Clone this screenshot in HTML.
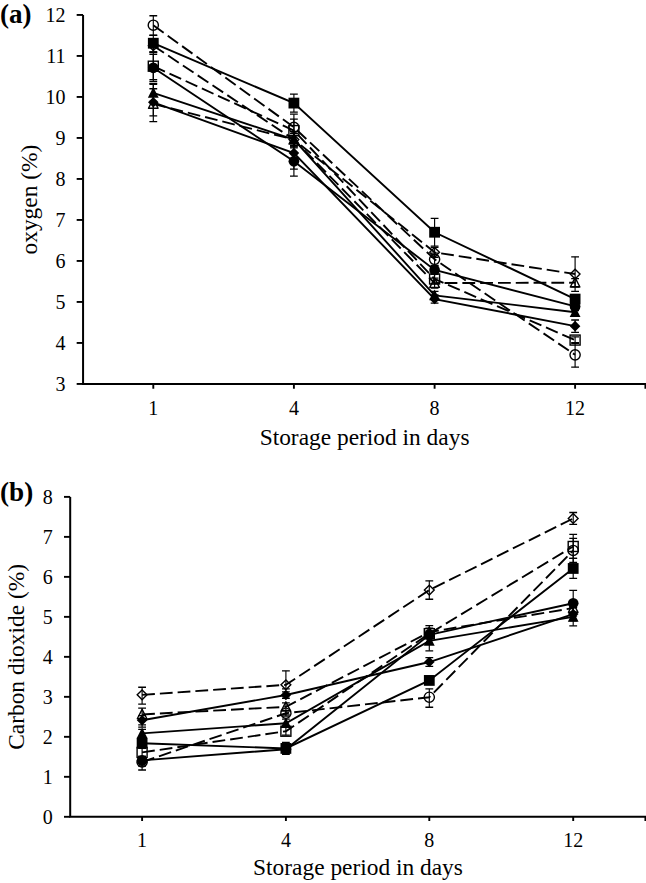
<!DOCTYPE html>
<html><head><meta charset="utf-8"><style>
html,body{margin:0;padding:0;background:#fff;}
body{width:646px;height:883px;overflow:hidden;}
svg{display:block;}
text{font-family:"Liberation Serif", serif;fill:#000;}
</style></head><body>
<svg width="646" height="883" viewBox="0 0 646 883" font-family='"Liberation Serif", serif'>
<rect width="646" height="883" fill="#fff"/>
<path d="M83.07,14.94V383.94H646" fill="none" stroke="#000" stroke-width="2"/>
<path d="M76.67,383.94H83.07" stroke="#000" stroke-width="1.9"/>
<text x="65.4" y="390.84" text-anchor="end" font-size="20">3</text>
<path d="M76.67,342.94H83.07" stroke="#000" stroke-width="1.9"/>
<text x="65.4" y="349.84" text-anchor="end" font-size="20">4</text>
<path d="M76.67,301.94H83.07" stroke="#000" stroke-width="1.9"/>
<text x="65.4" y="308.84" text-anchor="end" font-size="20">5</text>
<path d="M76.67,260.94H83.07" stroke="#000" stroke-width="1.9"/>
<text x="65.4" y="267.84" text-anchor="end" font-size="20">6</text>
<path d="M76.67,219.94H83.07" stroke="#000" stroke-width="1.9"/>
<text x="65.4" y="226.84" text-anchor="end" font-size="20">7</text>
<path d="M76.67,178.94H83.07" stroke="#000" stroke-width="1.9"/>
<text x="65.4" y="185.84" text-anchor="end" font-size="20">8</text>
<path d="M76.67,137.94H83.07" stroke="#000" stroke-width="1.9"/>
<text x="65.4" y="144.84" text-anchor="end" font-size="20">9</text>
<path d="M76.67,96.94H83.07" stroke="#000" stroke-width="1.9"/>
<text x="65.4" y="103.84" text-anchor="end" font-size="20">10</text>
<path d="M76.67,55.94H83.07" stroke="#000" stroke-width="1.9"/>
<text x="65.4" y="62.84" text-anchor="end" font-size="20">11</text>
<path d="M76.67,14.94H83.07" stroke="#000" stroke-width="1.9"/>
<text x="65.4" y="21.84" text-anchor="end" font-size="20">12</text>
<path d="M153.30,383.94V388.74" stroke="#000" stroke-width="1.9"/>
<path d="M293.90,383.94V388.74" stroke="#000" stroke-width="1.9"/>
<path d="M434.60,383.94V388.74" stroke="#000" stroke-width="1.9"/>
<path d="M575.10,383.94V388.74" stroke="#000" stroke-width="1.9"/>
<path d="M645.40,383.94V388.74" stroke="#000" stroke-width="1.9"/>
<text x="153.30" y="415" text-anchor="middle" font-size="20">1</text>
<text x="293.90" y="415" text-anchor="middle" font-size="20">4</text>
<text x="434.60" y="415" text-anchor="middle" font-size="20">8</text>
<text x="575.10" y="415" text-anchor="middle" font-size="20">12</text>
<text x="364.6" y="444.8" text-anchor="middle" font-size="23.4">Storage period in days</text>
<text transform="translate(36.8,199.6) rotate(-90)" text-anchor="middle" font-size="23.4">oxygen (%)</text>
<text x="0" y="22.9" font-size="27" font-weight="bold">(a)</text>
<polyline points="153.30,25.19 293.90,127.28 434.60,259.30 575.10,354.83" fill="none" stroke="#000" stroke-width="1.9" stroke-dasharray="12.8 5.0"/>
<polyline points="153.30,45.69 293.90,139.58 434.60,252.33 575.10,274.06" fill="none" stroke="#000" stroke-width="1.9" stroke-dasharray="12.8 5.0"/>
<polyline points="153.30,66.19 293.90,130.56 434.60,278.98 575.10,340.07" fill="none" stroke="#000" stroke-width="1.9" stroke-dasharray="12.8 5.0"/>
<polyline points="153.30,103.91 293.90,139.58 434.60,283.08 575.10,282.67" fill="none" stroke="#000" stroke-width="1.9" stroke-dasharray="12.8 5.0"/>
<polyline points="153.30,43.23 293.90,103.09 434.60,232.24 575.10,299.07" fill="none" stroke="#000" stroke-width="1.9"/>
<polyline points="153.30,67.83 293.90,161.31 434.60,269.96 575.10,306.45" fill="none" stroke="#000" stroke-width="1.9"/>
<polyline points="153.30,92.84 293.90,139.58 434.60,295.38 575.10,312.19" fill="none" stroke="#000" stroke-width="1.9"/>
<polyline points="153.30,102.27 293.90,153.11 434.60,299.07 575.10,326.13" fill="none" stroke="#000" stroke-width="1.9"/>
<circle cx="153.30" cy="25.19" r="5.1" fill="none" stroke="#000" stroke-width="1.4"/>
<circle cx="293.90" cy="127.28" r="5.1" fill="none" stroke="#000" stroke-width="1.4"/>
<circle cx="434.60" cy="259.30" r="5.1" fill="none" stroke="#000" stroke-width="1.4"/>
<circle cx="575.10" cy="354.83" r="5.1" fill="none" stroke="#000" stroke-width="1.4"/>
<path d="M153.30,40.79L158.20,45.69L153.30,50.59L148.40,45.69Z" fill="none" stroke="#000" stroke-width="1.4"/>
<path d="M293.90,134.68L298.80,139.58L293.90,144.48L289.00,139.58Z" fill="none" stroke="#000" stroke-width="1.4"/>
<path d="M434.60,247.43L439.50,252.33L434.60,257.23L429.70,252.33Z" fill="none" stroke="#000" stroke-width="1.4"/>
<path d="M575.10,269.16L580.00,274.06L575.10,278.96L570.20,274.06Z" fill="none" stroke="#000" stroke-width="1.4"/>
<rect x="148.30" y="61.19" width="10.00" height="10.00" fill="none" stroke="#000" stroke-width="1.4"/>
<rect x="288.90" y="125.56" width="10.00" height="10.00" fill="none" stroke="#000" stroke-width="1.4"/>
<rect x="429.60" y="273.98" width="10.00" height="10.00" fill="none" stroke="#000" stroke-width="1.4"/>
<rect x="570.10" y="335.07" width="10.00" height="10.00" fill="none" stroke="#000" stroke-width="1.4"/>
<path d="M153.30,98.91L158.10,108.21L148.50,108.21Z" fill="none" stroke="#000" stroke-width="1.4" stroke-linejoin="round"/>
<path d="M293.90,134.58L298.70,143.88L289.10,143.88Z" fill="none" stroke="#000" stroke-width="1.4" stroke-linejoin="round"/>
<path d="M434.60,278.08L439.40,287.38L429.80,287.38Z" fill="none" stroke="#000" stroke-width="1.4" stroke-linejoin="round"/>
<path d="M575.10,277.67L579.90,286.97L570.30,286.97Z" fill="none" stroke="#000" stroke-width="1.4" stroke-linejoin="round"/>
<rect x="147.90" y="37.83" width="10.80" height="10.80" fill="#000"/>
<rect x="288.50" y="97.69" width="10.80" height="10.80" fill="#000"/>
<rect x="429.20" y="226.84" width="10.80" height="10.80" fill="#000"/>
<rect x="569.70" y="293.67" width="10.80" height="10.80" fill="#000"/>
<circle cx="153.30" cy="67.83" r="5.35" fill="#000"/>
<circle cx="293.90" cy="161.31" r="5.35" fill="#000"/>
<circle cx="434.60" cy="269.96" r="5.35" fill="#000"/>
<circle cx="575.10" cy="306.45" r="5.35" fill="#000"/>
<path d="M153.30,87.04L158.70,97.74L147.90,97.74Z" fill="#000"/>
<path d="M293.90,133.78L299.30,144.48L288.50,144.48Z" fill="#000"/>
<path d="M434.60,289.58L440.00,300.28L429.20,300.28Z" fill="#000"/>
<path d="M575.10,306.39L580.50,317.09L569.70,317.09Z" fill="#000"/>
<path d="M153.30,96.97L158.60,102.27L153.30,107.57L148.00,102.27Z" fill="#000"/>
<path d="M293.90,147.81L299.20,153.11L293.90,158.41L288.60,153.11Z" fill="#000"/>
<path d="M434.60,293.77L439.90,299.07L434.60,304.37L429.30,299.07Z" fill="#000"/>
<path d="M575.10,320.83L580.40,326.13L575.10,331.43L569.80,326.13Z" fill="#000"/>
<path d="M153.30,15.76V35.23" stroke="#000" stroke-width="1.15"/>
<path d="M149.40,15.76H157.20M149.40,35.23H157.20" stroke="#000" stroke-width="1.3"/>
<path d="M293.90,119.08V135.48" stroke="#000" stroke-width="1.15"/>
<path d="M290.00,119.08H297.80M290.00,135.48H297.80" stroke="#000" stroke-width="1.3"/>
<path d="M434.60,253.15V265.45" stroke="#000" stroke-width="1.15"/>
<path d="M430.70,253.15H438.50M430.70,265.45H438.50" stroke="#000" stroke-width="1.3"/>
<path d="M575.10,342.53V367.13" stroke="#000" stroke-width="1.15"/>
<path d="M571.20,342.53H579.00M571.20,367.13H579.00" stroke="#000" stroke-width="1.3"/>
<path d="M153.30,41.59V51.84" stroke="#000" stroke-width="1.15"/>
<path d="M149.40,41.59H157.20M149.40,51.84H157.20" stroke="#000" stroke-width="1.3"/>
<path d="M293.90,133.43V145.73" stroke="#000" stroke-width="1.15"/>
<path d="M290.00,133.43H297.80M290.00,145.73H297.80" stroke="#000" stroke-width="1.3"/>
<path d="M434.60,247.41V257.25" stroke="#000" stroke-width="1.15"/>
<path d="M430.70,247.41H438.50M430.70,257.25H438.50" stroke="#000" stroke-width="1.3"/>
<path d="M575.10,256.84V291.28" stroke="#000" stroke-width="1.15"/>
<path d="M571.20,256.84H579.00M571.20,291.28H579.00" stroke="#000" stroke-width="1.3"/>
<path d="M153.30,52.66V79.72" stroke="#000" stroke-width="1.15"/>
<path d="M149.40,52.66H157.20M149.40,79.72H157.20" stroke="#000" stroke-width="1.3"/>
<path d="M293.90,114.16V146.96" stroke="#000" stroke-width="1.15"/>
<path d="M290.00,114.16H297.80M290.00,146.96H297.80" stroke="#000" stroke-width="1.3"/>
<path d="M434.60,274.06V283.90" stroke="#000" stroke-width="1.15"/>
<path d="M430.70,274.06H438.50M430.70,283.90H438.50" stroke="#000" stroke-width="1.3"/>
<path d="M575.10,336.79V343.35" stroke="#000" stroke-width="1.15"/>
<path d="M571.20,336.79H579.00M571.20,343.35H579.00" stroke="#000" stroke-width="1.3"/>
<path d="M153.30,83.41V121.54" stroke="#000" stroke-width="1.15"/>
<path d="M149.40,83.41H157.20M149.40,121.54H157.20" stroke="#000" stroke-width="1.3"/>
<path d="M293.90,131.38V147.78" stroke="#000" stroke-width="1.15"/>
<path d="M290.00,131.38H297.80M290.00,147.78H297.80" stroke="#000" stroke-width="1.3"/>
<path d="M434.60,278.16V288.00" stroke="#000" stroke-width="1.15"/>
<path d="M430.70,278.16H438.50M430.70,288.00H438.50" stroke="#000" stroke-width="1.3"/>
<path d="M575.10,278.57V286.77" stroke="#000" stroke-width="1.15"/>
<path d="M571.20,278.57H579.00M571.20,286.77H579.00" stroke="#000" stroke-width="1.3"/>
<path d="M153.30,35.44V51.84" stroke="#000" stroke-width="1.15"/>
<path d="M149.40,35.44H157.20M149.40,51.84H157.20" stroke="#000" stroke-width="1.3"/>
<path d="M293.90,94.07V112.11" stroke="#000" stroke-width="1.15"/>
<path d="M290.00,94.07H297.80M290.00,112.11H297.80" stroke="#000" stroke-width="1.3"/>
<path d="M434.60,218.30V246.18" stroke="#000" stroke-width="1.15"/>
<path d="M430.70,218.30H438.50M430.70,246.18H438.50" stroke="#000" stroke-width="1.3"/>
<path d="M575.10,294.97V303.17" stroke="#000" stroke-width="1.15"/>
<path d="M571.20,294.97H579.00M571.20,303.17H579.00" stroke="#000" stroke-width="1.3"/>
<path d="M153.30,54.30V81.36" stroke="#000" stroke-width="1.15"/>
<path d="M149.40,54.30H157.20M149.40,81.36H157.20" stroke="#000" stroke-width="1.3"/>
<path d="M293.90,153.52V169.10" stroke="#000" stroke-width="1.15"/>
<path d="M290.00,153.52H297.80M290.00,169.10H297.80" stroke="#000" stroke-width="1.3"/>
<path d="M434.60,265.86V274.06" stroke="#000" stroke-width="1.15"/>
<path d="M430.70,265.86H438.50M430.70,274.06H438.50" stroke="#000" stroke-width="1.3"/>
<path d="M575.10,302.35V310.55" stroke="#000" stroke-width="1.15"/>
<path d="M571.20,302.35H579.00M571.20,310.55H579.00" stroke="#000" stroke-width="1.3"/>
<path d="M153.30,84.23V101.45" stroke="#000" stroke-width="1.15"/>
<path d="M149.40,84.23H157.20M149.40,101.45H157.20" stroke="#000" stroke-width="1.3"/>
<path d="M293.90,133.43V145.73" stroke="#000" stroke-width="1.15"/>
<path d="M290.00,133.43H297.80M290.00,145.73H297.80" stroke="#000" stroke-width="1.3"/>
<path d="M434.60,291.28V299.48" stroke="#000" stroke-width="1.15"/>
<path d="M430.70,291.28H438.50M430.70,299.48H438.50" stroke="#000" stroke-width="1.3"/>
<path d="M575.10,308.09V316.29" stroke="#000" stroke-width="1.15"/>
<path d="M571.20,308.09H579.00M571.20,316.29H579.00" stroke="#000" stroke-width="1.3"/>
<path d="M153.30,88.74V115.80" stroke="#000" stroke-width="1.15"/>
<path d="M149.40,88.74H157.20M149.40,115.80H157.20" stroke="#000" stroke-width="1.3"/>
<path d="M293.90,140.81V176.07" stroke="#000" stroke-width="1.15"/>
<path d="M290.00,140.81H297.80M290.00,176.07H297.80" stroke="#000" stroke-width="1.3"/>
<path d="M434.60,294.97V303.17" stroke="#000" stroke-width="1.15"/>
<path d="M430.70,294.97H438.50M430.70,303.17H438.50" stroke="#000" stroke-width="1.3"/>
<path d="M575.10,319.98V332.28" stroke="#000" stroke-width="1.15"/>
<path d="M571.20,319.98H579.00M571.20,332.28H579.00" stroke="#000" stroke-width="1.3"/>
<path d="M70.2,496.88V816.80H646" fill="none" stroke="#000" stroke-width="2"/>
<path d="M64.00,816.80H70.2" stroke="#000" stroke-width="1.9"/>
<text x="52.8" y="823.70" text-anchor="end" font-size="20">0</text>
<path d="M64.00,776.81H70.2" stroke="#000" stroke-width="1.9"/>
<text x="52.8" y="783.71" text-anchor="end" font-size="20">1</text>
<path d="M64.00,736.82H70.2" stroke="#000" stroke-width="1.9"/>
<text x="52.8" y="743.72" text-anchor="end" font-size="20">2</text>
<path d="M64.00,696.83H70.2" stroke="#000" stroke-width="1.9"/>
<text x="52.8" y="703.73" text-anchor="end" font-size="20">3</text>
<path d="M64.00,656.84H70.2" stroke="#000" stroke-width="1.9"/>
<text x="52.8" y="663.74" text-anchor="end" font-size="20">4</text>
<path d="M64.00,616.85H70.2" stroke="#000" stroke-width="1.9"/>
<text x="52.8" y="623.75" text-anchor="end" font-size="20">5</text>
<path d="M64.00,576.86H70.2" stroke="#000" stroke-width="1.9"/>
<text x="52.8" y="583.76" text-anchor="end" font-size="20">6</text>
<path d="M64.00,536.87H70.2" stroke="#000" stroke-width="1.9"/>
<text x="52.8" y="543.77" text-anchor="end" font-size="20">7</text>
<path d="M64.00,496.88H70.2" stroke="#000" stroke-width="1.9"/>
<text x="52.8" y="503.78" text-anchor="end" font-size="20">8</text>
<path d="M142.10,816.80V821.00" stroke="#000" stroke-width="1.9"/>
<path d="M285.90,816.80V821.00" stroke="#000" stroke-width="1.9"/>
<path d="M429.30,816.80V821.00" stroke="#000" stroke-width="1.9"/>
<path d="M573.20,816.80V821.00" stroke="#000" stroke-width="1.9"/>
<path d="M645.40,816.80V821.00" stroke="#000" stroke-width="1.9"/>
<text x="142.10" y="846.6" text-anchor="middle" font-size="20">1</text>
<text x="285.90" y="846.6" text-anchor="middle" font-size="20">4</text>
<text x="429.30" y="846.6" text-anchor="middle" font-size="20">8</text>
<text x="573.20" y="846.6" text-anchor="middle" font-size="20">12</text>
<text x="358" y="875.1" text-anchor="middle" font-size="23.4">Storage period in days</text>
<text transform="translate(24.0,656.9) rotate(-90)" text-anchor="middle" font-size="23.4">Carbon dioxide (%)</text>
<text x="0" y="500.9" font-size="27.2" font-weight="bold">(b)</text>
<polyline points="142.10,694.83 285.90,684.83 429.30,590.06 573.20,518.47" fill="none" stroke="#000" stroke-width="1.9" stroke-dasharray="12.8 5.0"/>
<polyline points="142.10,714.43 285.90,706.83 429.30,632.05 573.20,608.05" fill="none" stroke="#000" stroke-width="1.9" stroke-dasharray="12.8 5.0"/>
<polyline points="142.10,762.01 285.90,713.23 429.30,697.23 573.20,550.47" fill="none" stroke="#000" stroke-width="1.9" stroke-dasharray="12.8 5.0"/>
<polyline points="142.10,752.42 285.90,731.22 429.30,633.65 573.20,546.47" fill="none" stroke="#000" stroke-width="1.9" stroke-dasharray="12.8 5.0"/>
<polyline points="142.10,743.22 285.90,748.42 429.30,680.43 573.20,568.46" fill="none" stroke="#000" stroke-width="1.9"/>
<polyline points="142.10,760.41 285.90,749.22 429.30,634.85 573.20,603.25" fill="none" stroke="#000" stroke-width="1.9"/>
<polyline points="142.10,733.42 285.90,723.22 429.30,640.84 573.20,616.85" fill="none" stroke="#000" stroke-width="1.9"/>
<polyline points="142.10,720.22 285.90,695.03 429.30,662.04 573.20,614.05" fill="none" stroke="#000" stroke-width="1.9"/>
<path d="M142.10,689.93L147.00,694.83L142.10,699.73L137.20,694.83Z" fill="none" stroke="#000" stroke-width="1.4"/>
<path d="M285.90,679.93L290.80,684.83L285.90,689.73L281.00,684.83Z" fill="none" stroke="#000" stroke-width="1.4"/>
<path d="M429.30,585.16L434.20,590.06L429.30,594.96L424.40,590.06Z" fill="none" stroke="#000" stroke-width="1.4"/>
<path d="M573.20,513.57L578.10,518.47L573.20,523.37L568.30,518.47Z" fill="none" stroke="#000" stroke-width="1.4"/>
<path d="M142.10,709.43L146.90,718.73L137.30,718.73Z" fill="none" stroke="#000" stroke-width="1.4" stroke-linejoin="round"/>
<path d="M285.90,701.83L290.70,711.13L281.10,711.13Z" fill="none" stroke="#000" stroke-width="1.4" stroke-linejoin="round"/>
<path d="M429.30,627.05L434.10,636.35L424.50,636.35Z" fill="none" stroke="#000" stroke-width="1.4" stroke-linejoin="round"/>
<path d="M573.20,603.05L578.00,612.35L568.40,612.35Z" fill="none" stroke="#000" stroke-width="1.4" stroke-linejoin="round"/>
<circle cx="142.10" cy="762.01" r="5.1" fill="none" stroke="#000" stroke-width="1.4"/>
<circle cx="285.90" cy="713.23" r="5.1" fill="none" stroke="#000" stroke-width="1.4"/>
<circle cx="429.30" cy="697.23" r="5.1" fill="none" stroke="#000" stroke-width="1.4"/>
<circle cx="573.20" cy="550.47" r="5.1" fill="none" stroke="#000" stroke-width="1.4"/>
<rect x="137.10" y="747.42" width="10.00" height="10.00" fill="none" stroke="#000" stroke-width="1.4"/>
<rect x="280.90" y="726.22" width="10.00" height="10.00" fill="none" stroke="#000" stroke-width="1.4"/>
<rect x="424.30" y="628.65" width="10.00" height="10.00" fill="none" stroke="#000" stroke-width="1.4"/>
<rect x="568.20" y="541.47" width="10.00" height="10.00" fill="none" stroke="#000" stroke-width="1.4"/>
<rect x="136.70" y="737.82" width="10.80" height="10.80" fill="#000"/>
<rect x="280.50" y="743.02" width="10.80" height="10.80" fill="#000"/>
<rect x="423.90" y="675.03" width="10.80" height="10.80" fill="#000"/>
<rect x="567.80" y="563.06" width="10.80" height="10.80" fill="#000"/>
<circle cx="142.10" cy="760.41" r="5.35" fill="#000"/>
<circle cx="285.90" cy="749.22" r="5.35" fill="#000"/>
<circle cx="429.30" cy="634.85" r="5.35" fill="#000"/>
<circle cx="573.20" cy="603.25" r="5.35" fill="#000"/>
<path d="M142.10,727.62L147.50,738.32L136.70,738.32Z" fill="#000"/>
<path d="M285.90,717.42L291.30,728.12L280.50,728.12Z" fill="#000"/>
<path d="M429.30,635.04L434.70,645.74L423.90,645.74Z" fill="#000"/>
<path d="M573.20,611.05L578.60,621.75L567.80,621.75Z" fill="#000"/>
<path d="M142.10,714.92L147.40,720.22L142.10,725.52L136.80,720.22Z" fill="#000"/>
<path d="M285.90,689.73L291.20,695.03L285.90,700.33L280.60,695.03Z" fill="#000"/>
<path d="M429.30,656.74L434.60,662.04L429.30,667.34L424.00,662.04Z" fill="#000"/>
<path d="M573.20,608.75L578.50,614.05L573.20,619.35L567.90,614.05Z" fill="#000"/>
<path d="M142.10,687.23V704.03" stroke="#000" stroke-width="1.15"/>
<path d="M138.20,687.23H146.00M138.20,704.03H146.00" stroke="#000" stroke-width="1.3"/>
<path d="M285.90,670.84V688.83" stroke="#000" stroke-width="1.15"/>
<path d="M282.00,670.84H289.80M282.00,688.83H289.80" stroke="#000" stroke-width="1.3"/>
<path d="M429.30,580.86V599.25" stroke="#000" stroke-width="1.15"/>
<path d="M425.40,580.86H433.20M425.40,599.25H433.20" stroke="#000" stroke-width="1.3"/>
<path d="M573.20,512.48V524.47" stroke="#000" stroke-width="1.15"/>
<path d="M569.30,512.48H577.10M569.30,524.47H577.10" stroke="#000" stroke-width="1.3"/>
<path d="M142.10,708.03V727.22" stroke="#000" stroke-width="1.15"/>
<path d="M138.20,708.03H146.00M138.20,727.22H146.00" stroke="#000" stroke-width="1.3"/>
<path d="M285.90,702.83V714.83" stroke="#000" stroke-width="1.15"/>
<path d="M282.00,702.83H289.80M282.00,714.83H289.80" stroke="#000" stroke-width="1.3"/>
<path d="M429.30,628.05V636.05" stroke="#000" stroke-width="1.15"/>
<path d="M425.40,628.05H433.20M425.40,636.05H433.20" stroke="#000" stroke-width="1.3"/>
<path d="M573.20,604.05V612.05" stroke="#000" stroke-width="1.15"/>
<path d="M569.30,604.05H577.10M569.30,612.05H577.10" stroke="#000" stroke-width="1.3"/>
<path d="M142.10,758.01V766.01" stroke="#000" stroke-width="1.15"/>
<path d="M138.20,758.01H146.00M138.20,766.01H146.00" stroke="#000" stroke-width="1.3"/>
<path d="M285.90,710.43V716.03" stroke="#000" stroke-width="1.15"/>
<path d="M282.00,710.43H289.80M282.00,716.03H289.80" stroke="#000" stroke-width="1.3"/>
<path d="M429.30,688.83V707.23" stroke="#000" stroke-width="1.15"/>
<path d="M425.40,688.83H433.20M425.40,707.23H433.20" stroke="#000" stroke-width="1.3"/>
<path d="M573.20,538.47V562.46" stroke="#000" stroke-width="1.15"/>
<path d="M569.30,538.47H577.10M569.30,562.46H577.10" stroke="#000" stroke-width="1.3"/>
<path d="M142.10,748.42V756.42" stroke="#000" stroke-width="1.15"/>
<path d="M138.20,748.42H146.00M138.20,756.42H146.00" stroke="#000" stroke-width="1.3"/>
<path d="M285.90,727.22V735.22" stroke="#000" stroke-width="1.15"/>
<path d="M282.00,727.22H289.80M282.00,735.22H289.80" stroke="#000" stroke-width="1.3"/>
<path d="M429.30,625.65V637.64" stroke="#000" stroke-width="1.15"/>
<path d="M425.40,625.65H433.20M425.40,637.64H433.20" stroke="#000" stroke-width="1.3"/>
<path d="M573.20,534.47V558.46" stroke="#000" stroke-width="1.15"/>
<path d="M569.30,534.47H577.10M569.30,558.46H577.10" stroke="#000" stroke-width="1.3"/>
<path d="M142.10,739.22V747.22" stroke="#000" stroke-width="1.15"/>
<path d="M138.20,739.22H146.00M138.20,747.22H146.00" stroke="#000" stroke-width="1.3"/>
<path d="M285.90,742.42V754.42" stroke="#000" stroke-width="1.15"/>
<path d="M282.00,742.42H289.80M282.00,754.42H289.80" stroke="#000" stroke-width="1.3"/>
<path d="M429.30,676.44V684.43" stroke="#000" stroke-width="1.15"/>
<path d="M425.40,676.44H433.20M425.40,684.43H433.20" stroke="#000" stroke-width="1.3"/>
<path d="M573.20,558.46V578.46" stroke="#000" stroke-width="1.15"/>
<path d="M569.30,558.46H577.10M569.30,578.46H577.10" stroke="#000" stroke-width="1.3"/>
<path d="M142.10,756.42V770.01" stroke="#000" stroke-width="1.15"/>
<path d="M138.20,756.42H146.00M138.20,770.01H146.00" stroke="#000" stroke-width="1.3"/>
<path d="M285.90,745.22V753.22" stroke="#000" stroke-width="1.15"/>
<path d="M282.00,745.22H289.80M282.00,753.22H289.80" stroke="#000" stroke-width="1.3"/>
<path d="M429.30,630.85V638.84" stroke="#000" stroke-width="1.15"/>
<path d="M425.40,630.85H433.20M425.40,638.84H433.20" stroke="#000" stroke-width="1.3"/>
<path d="M573.20,590.46V616.05" stroke="#000" stroke-width="1.15"/>
<path d="M569.30,590.46H577.10M569.30,616.05H577.10" stroke="#000" stroke-width="1.3"/>
<path d="M142.10,729.42V737.42" stroke="#000" stroke-width="1.15"/>
<path d="M138.20,729.42H146.00M138.20,737.42H146.00" stroke="#000" stroke-width="1.3"/>
<path d="M285.90,719.22V727.22" stroke="#000" stroke-width="1.15"/>
<path d="M282.00,719.22H289.80M282.00,727.22H289.80" stroke="#000" stroke-width="1.3"/>
<path d="M429.30,636.84V650.84" stroke="#000" stroke-width="1.15"/>
<path d="M425.40,636.84H433.20M425.40,650.84H433.20" stroke="#000" stroke-width="1.3"/>
<path d="M573.20,607.85V625.85" stroke="#000" stroke-width="1.15"/>
<path d="M569.30,607.85H577.10M569.30,625.85H577.10" stroke="#000" stroke-width="1.3"/>
<path d="M142.10,715.63V724.82" stroke="#000" stroke-width="1.15"/>
<path d="M138.20,715.63H146.00M138.20,724.82H146.00" stroke="#000" stroke-width="1.3"/>
<path d="M285.90,691.83V698.23" stroke="#000" stroke-width="1.15"/>
<path d="M282.00,691.83H289.80M282.00,698.23H289.80" stroke="#000" stroke-width="1.3"/>
<path d="M429.30,657.64V666.44" stroke="#000" stroke-width="1.15"/>
<path d="M425.40,657.64H433.20M425.40,666.44H433.20" stroke="#000" stroke-width="1.3"/>
<path d="M573.20,607.25V620.85" stroke="#000" stroke-width="1.15"/>
<path d="M569.30,607.25H577.10M569.30,620.85H577.10" stroke="#000" stroke-width="1.3"/>
</svg>
</body></html>
